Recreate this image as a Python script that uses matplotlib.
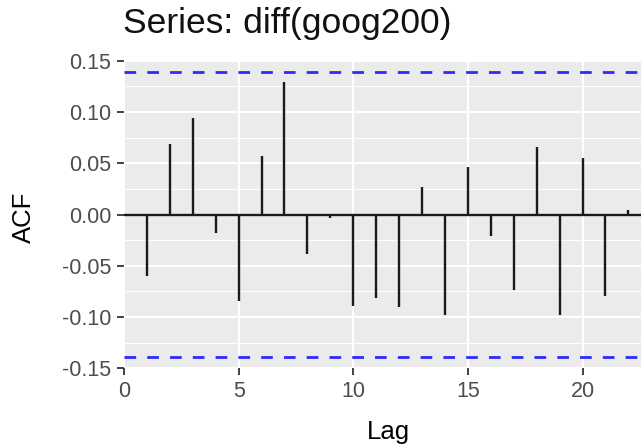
import numpy as np
import matplotlib
matplotlib.use("Agg")
import matplotlib.pyplot as plt
from matplotlib.ticker import MultipleLocator

plt.rcParams['font.family'] = ['Liberation Sans', 'DejaVu Sans']

# ACF values
lags = list(range(1, 23))
acf_vals = [-0.060, 0.069, 0.094, -0.018, -0.084, 0.057, 0.129, -0.039, -0.003, -0.089, -0.081,
            -0.090, 0.027, -0.098, 0.046, -0.021, -0.074, 0.066, -0.098, 0.055, -0.079, 0.004]
conf_limit = 0.139  # about 1.96/sqrt(199)

x_ticks = [0, 5, 10, 15, 20]
y_ticks = [-0.15, -0.10, -0.05, 0.00, 0.05, 0.10, 0.15]
y_tick_labels = ['-0.15', '-0.10', '-0.05', '0.00', '0.05', '0.10', '0.15']

W, H = 641, 446
fig = plt.figure(figsize=(W / 100, H / 100), dpi=100)

# panel runs off the right edge like the reference
left, top, bottom = 124, 60.7, 368.3
ax = fig.add_axes([left / W, 1 - bottom / H, 1 - left / W, (bottom - top) / H])
ax.set_facecolor('#EBEBEB')
for s in ax.spines.values():
    s.set_visible(False)

ax.set_xlim(0, 22.55)
ax.set_ylim(-0.15, 0.15)

ax.set_xticks(x_ticks)
ax.set_yticks(y_ticks)
ax.set_yticklabels(y_tick_labels)
ax.yaxis.set_minor_locator(MultipleLocator(0.025))
ax.grid(which='major', color='white', linewidth=1.5)
ax.grid(which='minor', axis='y', color='white', linewidth=0.75)
ax.set_axisbelow(True)

ax.tick_params(which='major', length=5, width=1.3, color='#333333', labelsize=15.5,
               labelcolor='#4D4D4D', pad=4)
ax.tick_params(which='minor', length=0)

# zero line and spikes
ax.axhline(0, color='#1a1a1a', linewidth=1.7, zorder=2)
ax.vlines(lags, 0, acf_vals, color='#1a1a1a', linewidth=1.7, zorder=3)

# confidence bounds
for c in (conf_limit, -conf_limit):
    ax.axhline(c, color='#2b2bff', linewidth=2.0, linestyle=(0, (4.2, 4.0)), zorder=3)

fig.text(123 / W, 1 - 33 / H, 'Series: diff(goog200)', fontsize=25.5, color='#111111',
         ha='left', va='baseline')
fig.text(388 / W, 1 - 439 / H, 'Lag', fontsize=18.5, color='black', ha='center', va='baseline')
fig.text(24 / W, 1 - 217 / H, 'ACF', fontsize=18.5, color='black', ha='center', va='center',
         rotation=90)

fig.savefig('out.png', dpi=100)
